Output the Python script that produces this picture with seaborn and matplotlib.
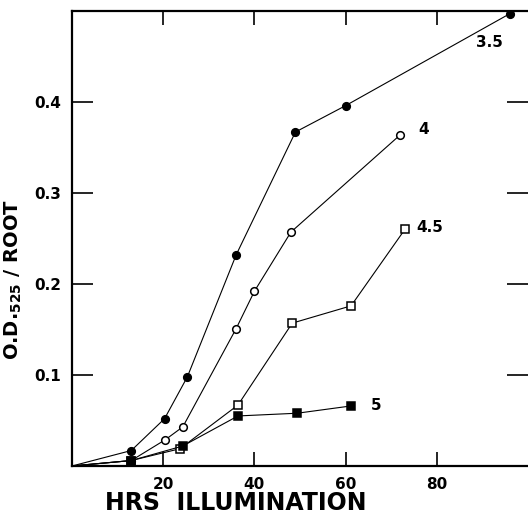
import matplotlib
matplotlib.use("Agg")
import matplotlib.pyplot as plt
import seaborn as sns
import pandas as pd

# hours of illumination and O.D. per root, one list pair per pH
x_35 = [0, 13, 20.3, 25.3, 36, 49, 60, 96]
y_35 = [0, 0.017, 0.052, 0.098, 0.232, 0.367, 0.396, 0.497]

x_4 = [0, 13, 20.5, 24.3, 36, 40, 48, 72]
y_4 = [0, 0.006, 0.029, 0.043, 0.151, 0.192, 0.257, 0.364]

x_45 = [0, 13, 23.7, 36.4, 48.3, 61.2, 73]
y_45 = [0, 0.006, 0.019, 0.067, 0.157, 0.176, 0.260]

x_5 = [0, 13, 24.3, 36.4, 49.4, 61.2]
y_5 = [0, 0.006, 0.022, 0.055, 0.058, 0.066]

labels = ["3.5", "4", "4.5", "5"]
label_pos = [(88.5, 0.465), (76, 0.370), (75.5, 0.262), (65.5, 0.066)]

xticks = [20, 40, 60, 80]
yticks = [0.1, 0.2, 0.3, 0.4]

sns.set_style("ticks", {"axes.edgecolor": "black", "text.color": "black",
                        "xtick.color": "black", "ytick.color": "black",
                        "axes.labelcolor": "black"})
plt.rcParams['font.family'] = ['DejaVu Sans']

fig = plt.figure(figsize=(5.28, 5.14), dpi=100)
ax = fig.add_axes([72/528, 48/514, 1 - 72/528, 455/514])

styles = [
    dict(marker="o", mfc="black", mec="black"),
    dict(marker="o", mfc="white", mec="black"),
    dict(marker="s", mfc="white", mec="black"),
    dict(marker="s", mfc="black", mec="black"),
]
series = [(x_35, y_35), (x_4, y_4), (x_45, y_45), (x_5, y_5)]

for (xs, ys), st in zip(series, styles):
    df = pd.DataFrame({"hrs": xs, "od": ys})
    sns.lineplot(data=df, x="hrs", y="od", ax=ax, color="black", lw=0.8,
                 markersize=5.5, mew=1.1, markevery=list(range(1, len(xs))),
                 estimator=None, sort=False, **st)

for lab, (lx, ly) in zip(labels, label_pos):
    ax.text(lx, ly, lab, fontsize=11, fontweight="bold", ha="left", va="center")

ax.set_xlim(0, 100)
ax.set_ylim(0, 0.5)
ax.set_xticks(xticks)
ax.set_xticklabels([str(t) for t in xticks])
ax.set_yticks(yticks)
ax.set_yticklabels([f"{t:.1f}" for t in yticks])

for s in ["left", "bottom", "top"]:
    ax.spines[s].set_linewidth(1.6)
ax.spines["right"].set_visible(False)

ax.tick_params(axis="x", direction="in", length=10, width=1.2, top=True,
               labelsize=11, pad=8)
ax.tick_params(axis="y", direction="in", length=15, width=1.2, right=True,
               labelsize=11, pad=8)
for t in ax.get_xticklabels() + ax.get_yticklabels():
    t.set_fontweight("bold")

ax.set_xlabel("HRS  ILLUMINATION", fontsize=17, fontweight="bold")
ax.xaxis.set_label_coords(0.36, -0.055)
ax.set_ylabel(r"O.D.$_{\mathbf{525}}$ / ROOT", fontsize=14, fontweight="bold")
ax.yaxis.set_label_coords(-0.105, 0.41)

fig.savefig("out.png", dpi=100)
